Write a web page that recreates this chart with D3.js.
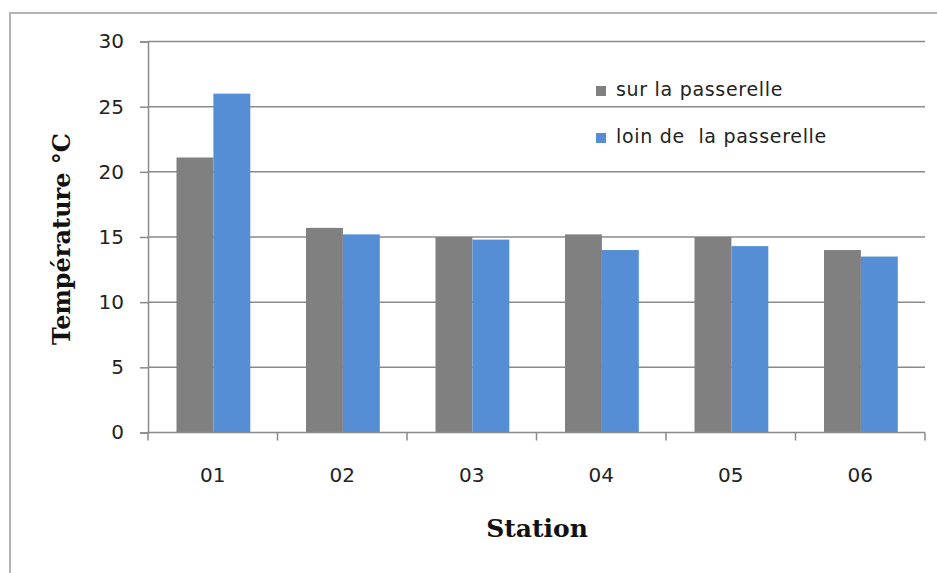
<!DOCTYPE html>
<html>
<head>
<meta charset="utf-8">
<script src="https://cdn.jsdelivr.net/npm/d3@7"></script>
<style>
  html, body { margin: 0; padding: 0; background: #fff; }
  svg { display: block; }
</style>
</head>
<body>
<svg id="chart" width="937" height="573"></svg>
<script>
// Stations and mean temperatures (°C)
const stations = ["01", "02", "03", "04", "05", "06"];
const seriesNames = ["sur la passerelle", "loin de  la passerelle"];
const surPasserelle = [21.1, 15.7, 15.0, 15.2, 15.0, 14.0];
const loinPasserelle = [26.0, 15.2, 14.8, 14.0, 14.3, 13.5];
const yTicks = [0, 5, 10, 15, 20, 25, 30];
const colors = ["#808080", "#558ed5"];

const svg = d3.select("#chart");

// Outer frame (top and left edges visible)
svg.append("rect")
  .attr("x", 10).attr("y", 13)
  .attr("width", 960).attr("height", 600)
  .attr("fill", "none").attr("stroke", "#b4b4b4").attr("stroke-width", 2);

const plotLeft = 148, plotRight = 925, plotTop = 41.5, plotBottom = 432.5;

const x0 = d3.scaleBand().domain(stations).range([plotLeft, plotRight]).padding(0);
const bw = x0.bandwidth();
const x1 = d3.scaleBand().domain(seriesNames).range([bw * 0.22, bw * 0.79]).padding(0);
const y = d3.scaleLinear().domain([0, 30]).range([plotBottom, plotTop]);

// Horizontal gridlines
svg.append("g")
  .selectAll("line")
  .data(yTicks.filter(t => t > 0))
  .join("line")
  .attr("x1", plotLeft).attr("x2", plotRight)
  .attr("y1", d => y(d)).attr("y2", d => y(d))
  .attr("stroke", "#8a8a8a").attr("stroke-width", 1.5);

// Bars
const rows = stations.map((s, i) => ({ station: s, values: [surPasserelle[i], loinPasserelle[i]] }));
svg.append("g")
  .selectAll("g")
  .data(rows)
  .join("g")
  .attr("transform", d => `translate(${x0(d.station)},0)`)
  .selectAll("rect")
  .data(d => d.values.map((v, k) => ({ name: seriesNames[k], value: v, k })))
  .join("rect")
  .attr("x", d => x1(d.name))
  .attr("width", x1.bandwidth())
  .attr("y", d => y(d.value))
  .attr("height", d => y(0) - y(d.value))
  .attr("fill", d => colors[d.k]);

// Y axis
const yAxis = svg.append("g")
  .attr("transform", `translate(${plotLeft},0)`)
  .call(d3.axisLeft(y).tickValues(yTicks).tickSize(8).tickPadding(16).tickFormat(d3.format("d")));
yAxis.select(".domain").attr("stroke", "#8a8a8a").attr("stroke-width", 1.5);
yAxis.selectAll(".tick line").attr("stroke", "#8a8a8a").attr("stroke-width", 1.5);
yAxis.selectAll(".tick text")
  .attr("fill", "#222")
  .style("font-family", "'DejaVu Sans', sans-serif")
  .style("font-size", "20px");

// X axis with ticks at category boundaries
const xAxisG = svg.append("g").attr("transform", `translate(0,${plotBottom})`);
xAxisG.append("line")
  .attr("x1", plotLeft).attr("x2", plotRight).attr("y1", 0).attr("y2", 0)
  .attr("stroke", "#8a8a8a").attr("stroke-width", 1.5);
const boundaries = stations.map(s => x0(s)).concat([x0(stations[stations.length - 1]) + bw]);
xAxisG.selectAll("line.tk")
  .data(boundaries)
  .join("line")
  .attr("class", "tk")
  .attr("x1", d => d).attr("x2", d => d)
  .attr("y1", 0).attr("y2", 8)
  .attr("stroke", "#8a8a8a").attr("stroke-width", 1.5);
xAxisG.selectAll("text")
  .data(stations)
  .join("text")
  .attr("x", d => x0(d) + bw / 2)
  .attr("y", 49)
  .attr("text-anchor", "middle")
  .attr("fill", "#222")
  .style("font-family", "'DejaVu Sans', sans-serif")
  .style("font-size", "20px")
  .text(d => d);

// Axis titles
svg.append("text")
  .attr("x", 537).attr("y", 537)
  .attr("text-anchor", "middle")
  .attr("fill", "#111")
  .style("font-family", "'DejaVu Serif', serif")
  .style("font-weight", "bold")
  .style("font-size", "25px")
  .text("Station");

svg.append("text")
  .attr("transform", "translate(70,239) rotate(-90)")
  .attr("text-anchor", "middle")
  .attr("fill", "#111")
  .style("font-family", "'DejaVu Serif', serif")
  .style("font-weight", "bold")
  .style("font-size", "24px")
  .text("Température °C");

// Legend
const legend = svg.append("g");
const legendRows = [{ y: 96 }, { y: 143 }];
legendRows.forEach((r, i) => {
  legend.append("rect")
    .attr("x", 596).attr("y", r.y - 10)
    .attr("width", 10).attr("height", 10)
    .attr("fill", colors[i]);
  legend.append("text")
    .attr("x", 616).attr("y", r.y)
    .attr("fill", "#222")
    .style("font-family", "'DejaVu Sans', sans-serif")
    .style("font-size", "19px")
    .style("letter-spacing", "0.7px")
    .style("white-space", "pre")
    .text(seriesNames[i]);
});
</script>
</body>
</html>
